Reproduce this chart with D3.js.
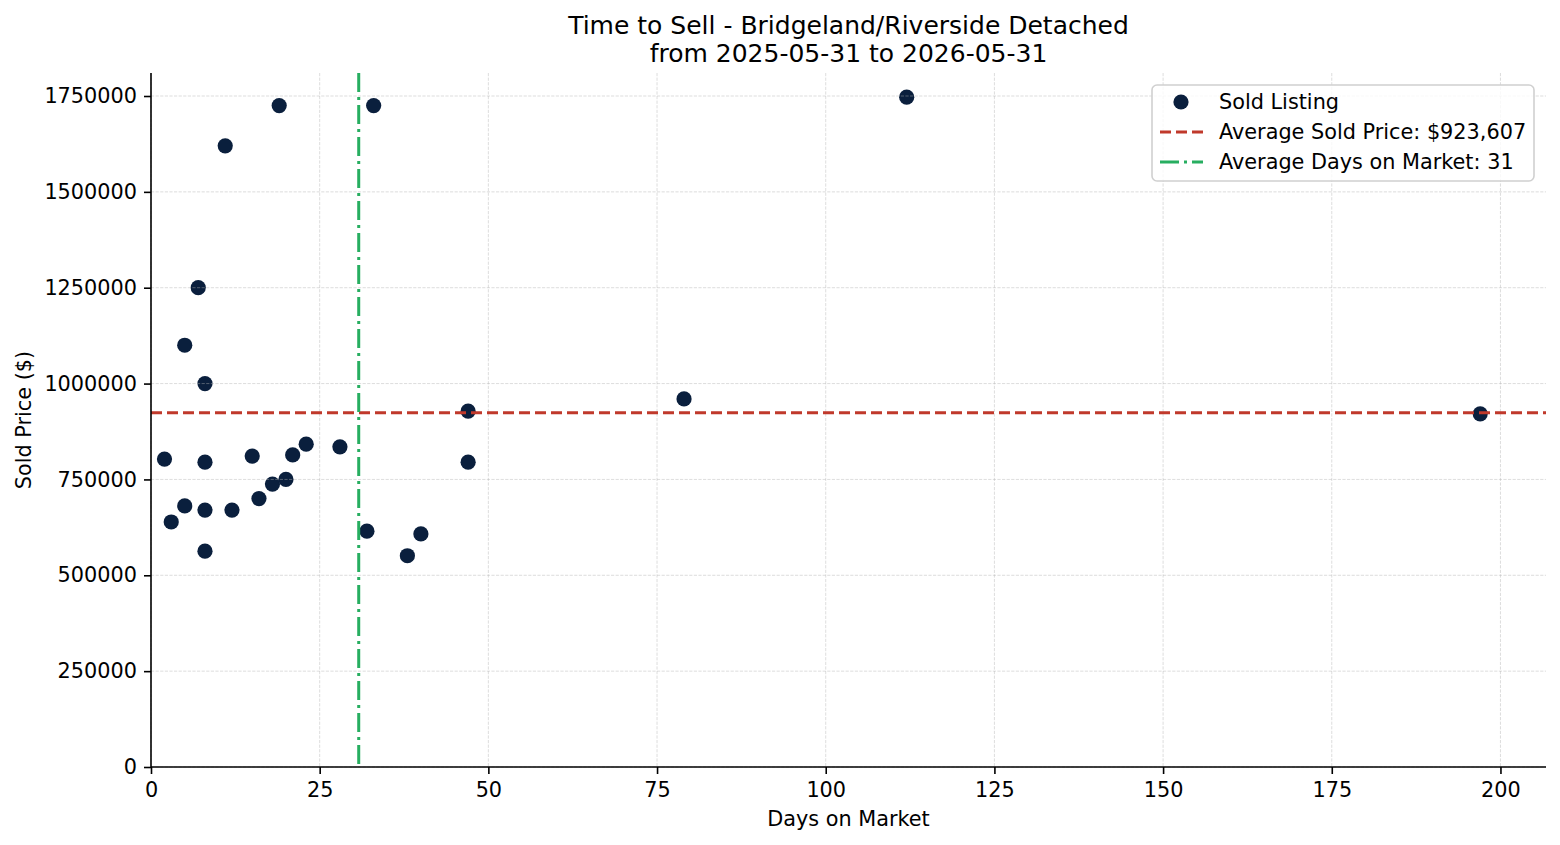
<!DOCTYPE html>
<html lang="en">
<head>
<meta charset="utf-8">
<title>Time to Sell - Bridgeland/Riverside Detached</title>
<script src="https://cdn.jsdelivr.net/npm/d3@7"></script>
<style>
  body { margin: 0; background: #fff; }
  svg { font-family: "DejaVu Sans", sans-serif; }
</style>
</head>
<body>
<script>
// sold listings
const days   = [2, 3, 5, 5, 7, 8, 8, 8, 8, 11, 12, 15, 16, 18, 19, 20, 21, 23, 28, 32, 33, 38, 40, 47, 47, 79, 112, 197];
const prices = [803000, 639000, 1100000, 681000, 1250000, 1000000, 795000, 670000, 563000, 1620000, 670000, 811000, 700000, 738000, 1725000, 750000, 814000, 842000, 835000, 615000, 1725000, 551000, 608000, 928000, 795000, 960000, 1747000, 921000];
const avgPrice = 923607;
const xTicks = [0, 25, 50, 75, 100, 125, 150, 175, 200];
const yTicks = [0, 250000, 500000, 750000, 1000000, 1250000, 1500000, 1750000];
const titleLines = ["Time to Sell - Bridgeland/Riverside Detached", "from 2025-05-31 to 2026-05-31"];

const W = 1560, H = 845;
const m = {left: 151, right: 14, top: 73, bottom: 78};
const fs = "20.8px";
const avgDays = d3.mean(days);

const svg = d3.select("body").append("svg")
  .attr("width", W).attr("height", H);

const x = d3.scaleLinear().domain([0, 206.75]).range([m.left, W - m.right]);
const y = d3.scaleLinear().domain([0, 1810000]).range([H - m.bottom, m.top]);

const pts = days.map((d, i) => ({d: d, p: prices[i]}));

// points (matplotlib draws the grid above the scatter)
svg.append("g").selectAll("circle")
  .data(pts).enter().append("circle")
  .attr("cx", d => x(d.d))
  .attr("cy", d => y(d.p))
  .attr("r", 7.6)
  .attr("fill", "#0a1f3d");

// grid
const grid = svg.append("g").attr("stroke", "#b0b0b0").attr("stroke-opacity", 0.55)
  .attr("stroke-width", 0.8).attr("stroke-dasharray", "3.2,1.4");
grid.selectAll(".gx").data(xTicks).enter().append("line")
  .attr("x1", d => x(d)).attr("x2", d => x(d))
  .attr("y1", m.top).attr("y2", H - m.bottom);
grid.selectAll(".gy").data(yTicks).enter().append("line")
  .attr("x1", m.left).attr("x2", W - m.right)
  .attr("y1", d => y(d)).attr("y2", d => y(d));

// average lines
svg.append("line")
  .attr("x1", m.left).attr("x2", W - m.right)
  .attr("y1", y(avgPrice)).attr("y2", y(avgPrice))
  .attr("stroke", "#c0392b").attr("stroke-width", 3)
  .attr("stroke-dasharray", "11,5");
svg.append("line")
  .attr("x1", x(avgDays)).attr("x2", x(avgDays))
  .attr("y1", m.top).attr("y2", H - m.bottom)
  .attr("stroke", "#27ae60").attr("stroke-width", 3)
  .attr("stroke-dasharray", "19,5,3,5");

// axes
const xAxis = svg.append("g")
  .attr("transform", "translate(0," + (H - m.bottom) + ")")
  .call(d3.axisBottom(x).tickValues(xTicks).tickSize(7).tickPadding(8).tickFormat(d3.format("d")));
const yAxis = svg.append("g")
  .attr("transform", "translate(" + m.left + ",0)")
  .call(d3.axisLeft(y).tickValues(yTicks).tickSize(7).tickPadding(7).tickFormat(d3.format("d")));
[xAxis, yAxis].forEach(a => {
  a.select(".domain").attr("stroke", "#000").attr("stroke-width", 1.6);
  a.selectAll(".tick line").attr("stroke", "#000").attr("stroke-width", 1.6);
  a.selectAll(".tick text").attr("fill", "#000").style("font-size", fs)
    .style("font-family", "DejaVu Sans");
});
// keep the spine ends flush with the plot area
xAxis.select(".domain").attr("d", "M" + m.left + ",0H" + (W - m.right));
yAxis.select(".domain").attr("d", "M0," + (H - m.bottom) + "V" + m.top);

// labels
svg.append("text")
  .attr("x", (m.left + W - m.right) / 2).attr("y", 826)
  .attr("text-anchor", "middle").style("font-size", fs)
  .text("Days on Market");
svg.append("text")
  .attr("transform", "translate(31," + ((m.top + H - m.bottom) / 2) + ") rotate(-90)")
  .attr("text-anchor", "middle").style("font-size", fs)
  .text("Sold Price ($)");

const title = svg.append("text")
  .attr("x", (m.left + W - m.right) / 2)
  .attr("text-anchor", "middle").style("font-size", "25px");
title.selectAll("tspan").data(titleLines).enter().append("tspan")
  .attr("x", (m.left + W - m.right) / 2)
  .attr("y", (d, i) => 34 + i * 27.5)
  .text(d => d);

// legend
const lg = svg.append("g").attr("transform", "translate(1152,85)");
lg.append("rect")
  .attr("width", 382).attr("height", 96).attr("rx", 5)
  .attr("fill", "#fff").attr("fill-opacity", 0.8)
  .attr("stroke", "#d0d0d0").attr("stroke-width", 1.6);
const items = [
  {label: "Sold Listing", type: "dot"},
  {label: "Average Sold Price: $" + d3.format(",")(avgPrice), type: "price"},
  {label: "Average Days on Market: " + Math.round(avgDays), type: "days"}
];
const row = lg.selectAll(".item").data(items).enter().append("g")
  .attr("transform", (d, i) => "translate(0," + (17 + i * 30) + ")");
row.each(function(d) {
  const g = d3.select(this);
  if (d.type === "dot") {
    g.append("circle").attr("cx", 29).attr("cy", 0).attr("r", 7.6).attr("fill", "#0a1f3d");
  } else if (d.type === "price") {
    g.append("line").attr("x1", 8).attr("x2", 51).attr("y1", 0).attr("y2", 0)
      .attr("stroke", "#c0392b").attr("stroke-width", 3).attr("stroke-dasharray", "11,5");
  } else {
    g.append("line").attr("x1", 8).attr("x2", 51).attr("y1", 0).attr("y2", 0)
      .attr("stroke", "#27ae60").attr("stroke-width", 3).attr("stroke-dasharray", "19,5,3,5");
  }
  g.append("text").attr("x", 67).attr("y", 7).style("font-size", fs).text(d.label);
});
</script>
</body>
</html>
